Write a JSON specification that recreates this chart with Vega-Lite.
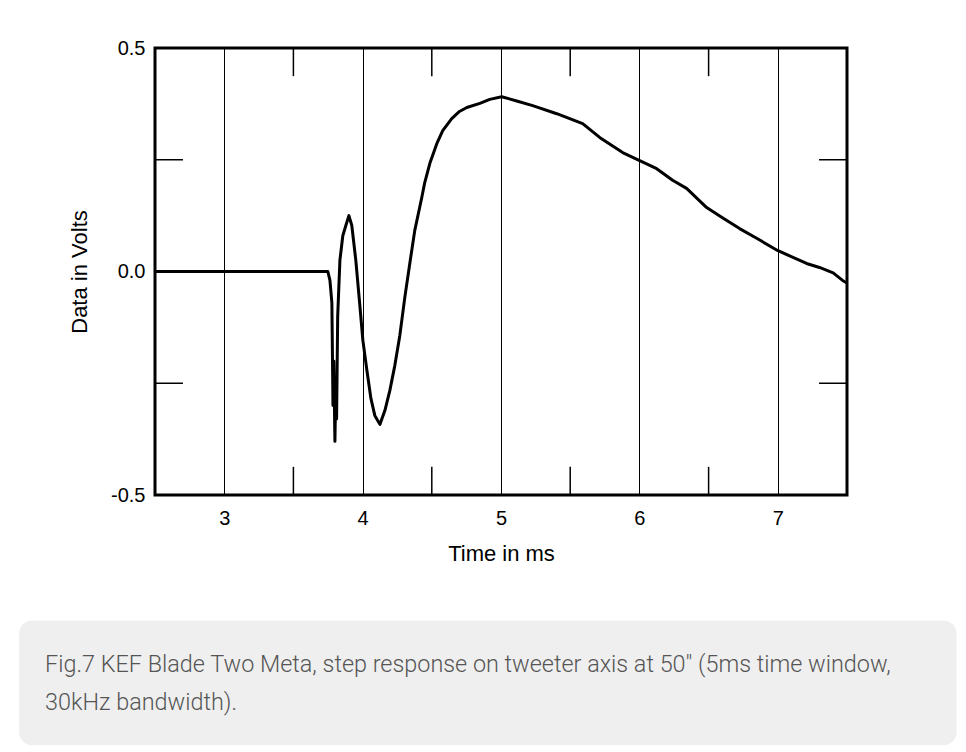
{
  "$schema": "https://vega.github.io/schema/vega-lite/v6.json",
  "width": 692,
  "height": 447,
  "autosize": {"type": "none"},
  "padding": {"left": 155, "top": 48, "right": 119, "bottom": 257},
  "background": "white",
  "config": {
    "view": {"stroke": "black", "strokeWidth": 3},
    "axis": {"labelFont": "Liberation Sans", "titleFont": "Liberation Sans", "labelColor": "black", "titleColor": "black"}
  },
  "resolve": {"axis": {"x": "independent", "y": "independent"}},
  "datasets": {
    "step": [
      {"t": 2.5, "v": 0.0},
      {"t": 3.749, "v": 0.0},
      {"t": 3.764, "v": -0.02},
      {"t": 3.778, "v": -0.07},
      {"t": 3.786, "v": -0.3},
      {"t": 3.792, "v": -0.2},
      {"t": 3.800, "v": -0.38},
      {"t": 3.806, "v": -0.26},
      {"t": 3.812, "v": -0.33},
      {"t": 3.820, "v": -0.1},
      {"t": 3.836, "v": 0.025},
      {"t": 3.857, "v": 0.08},
      {"t": 3.879, "v": 0.103},
      {"t": 3.901, "v": 0.125},
      {"t": 3.922, "v": 0.103},
      {"t": 3.951, "v": 0.025},
      {"t": 3.980, "v": -0.076},
      {"t": 4.002, "v": -0.154},
      {"t": 4.031, "v": -0.221},
      {"t": 4.060, "v": -0.284},
      {"t": 4.088, "v": -0.322},
      {"t": 4.125, "v": -0.342},
      {"t": 4.161, "v": -0.311},
      {"t": 4.197, "v": -0.266},
      {"t": 4.233, "v": -0.21},
      {"t": 4.269, "v": -0.143},
      {"t": 4.305, "v": -0.058},
      {"t": 4.341, "v": 0.018},
      {"t": 4.377, "v": 0.092},
      {"t": 4.428, "v": 0.166},
      {"t": 4.449, "v": 0.199},
      {"t": 4.486, "v": 0.242},
      {"t": 4.536, "v": 0.286},
      {"t": 4.579, "v": 0.315},
      {"t": 4.644, "v": 0.342},
      {"t": 4.700, "v": 0.358},
      {"t": 4.753, "v": 0.367},
      {"t": 4.847, "v": 0.376},
      {"t": 4.919, "v": 0.385},
      {"t": 5.005, "v": 0.391},
      {"t": 5.120, "v": 0.381},
      {"t": 5.229, "v": 0.371},
      {"t": 5.403, "v": 0.353},
      {"t": 5.590, "v": 0.331},
      {"t": 5.713, "v": 0.3},
      {"t": 5.879, "v": 0.266},
      {"t": 6.002, "v": 0.248},
      {"t": 6.125, "v": 0.23},
      {"t": 6.240, "v": 0.204},
      {"t": 6.341, "v": 0.186},
      {"t": 6.486, "v": 0.143},
      {"t": 6.600, "v": 0.12},
      {"t": 6.724, "v": 0.096},
      {"t": 6.860, "v": 0.072},
      {"t": 6.998, "v": 0.047},
      {"t": 7.208, "v": 0.018},
      {"t": 7.301, "v": 0.009},
      {"t": 7.400, "v": -0.003},
      {"t": 7.468, "v": -0.02},
      {"t": 7.496, "v": -0.025}
    ],
    "xticks": [{"t": 3.5}, {"t": 4.5}, {"t": 5.5}, {"t": 6.5}],
    "yticks": [{"v": 0.25}, {"v": -0.25}]
  },
  "layer": [
    {
      "data": {"name": "step"},
      "mark": {"type": "line", "color": "black", "strokeWidth": 3, "strokeJoin": "round"},
      "encoding": {
        "x": {
          "field": "t", "type": "quantitative",
          "scale": {"domain": [2.5, 7.5], "nice": false, "zero": false},
          "axis": {"title": "Time in ms", "values": [3, 4, 5, 6, 7], "ticks": false, "domain": false, "grid": true, "gridColor": "black", "gridWidth": 1, "gridOpacity": 1, "labelFontSize": 20, "labelPadding": 13, "titleFontSize": 22, "titleFontWeight": "normal", "titlePadding": 15}
        },
        "y": {
          "field": "v", "type": "quantitative",
          "scale": {"domain": [-0.5, 0.5], "nice": false, "zero": false},
          "axis": {"title": "Data in Volts", "values": [-0.5, 0, 0.5], "labelExpr": "replace(format(datum.value, '.1f'), '\u2212', '-')", "ticks": false, "domain": false, "grid": false, "labelFontSize": 20, "labelPadding": 10, "titleFontSize": 22, "titleFontWeight": "normal", "titlePadding": 19}
        }
      }
    },
    {
      "data": {"values": [{}]},
      "mark": {"type": "rect", "fill": "#efefef", "cornerRadius": 13, "clip": false},
      "encoding": {
        "x": {"datum": 1.518, "type": "quantitative", "axis": null},
        "x2": {"datum": 8.291},
        "y": {"datum": -0.781, "type": "quantitative", "axis": null},
        "y2": {"datum": -1.06}
      }
    },
    {
      "data": {"values": [{}]},
      "mark": {"type": "text", "align": "left", "baseline": "alphabetic", "font": "Roboto", "fontWeight": 300, "fontSize": 23.4, "color": "#555555", "lineHeight": 38, "clip": false},
      "encoding": {
        "x": {"datum": 1.706, "type": "quantitative", "axis": null},
        "y": {"datum": -0.897, "type": "quantitative", "axis": null},
        "text": {"value": ["Fig.7 KEF Blade Two Meta, step response on tweeter axis at 50\" (5ms time window,", "30kHz bandwidth)."]}
      }
    },
    {
      "data": {"name": "xticks"},
      "mark": {"type": "rule", "color": "black", "strokeWidth": 1.5},
      "encoding": {
        "x": {"field": "t", "type": "quantitative", "axis": null},
        "y": {"datum": 0.5, "type": "quantitative", "axis": null},
        "y2": {"datum": 0.437}
      }
    },
    {
      "data": {"name": "xticks"},
      "mark": {"type": "rule", "color": "black", "strokeWidth": 1.5},
      "encoding": {
        "x": {"field": "t", "type": "quantitative", "axis": null},
        "y": {"datum": -0.5, "type": "quantitative", "axis": null},
        "y2": {"datum": -0.437}
      }
    },
    {
      "data": {"name": "yticks"},
      "mark": {"type": "rule", "color": "black", "strokeWidth": 1.5},
      "encoding": {
        "y": {"field": "v", "type": "quantitative", "axis": null},
        "x": {"datum": 2.5, "type": "quantitative", "axis": null},
        "x2": {"datum": 2.702}
      }
    },
    {
      "data": {"name": "yticks"},
      "mark": {"type": "rule", "color": "black", "strokeWidth": 1.5},
      "encoding": {
        "y": {"field": "v", "type": "quantitative", "axis": null},
        "x": {"datum": 7.5, "type": "quantitative", "axis": null},
        "x2": {"datum": 7.298}
      }
    }
  ]
}
